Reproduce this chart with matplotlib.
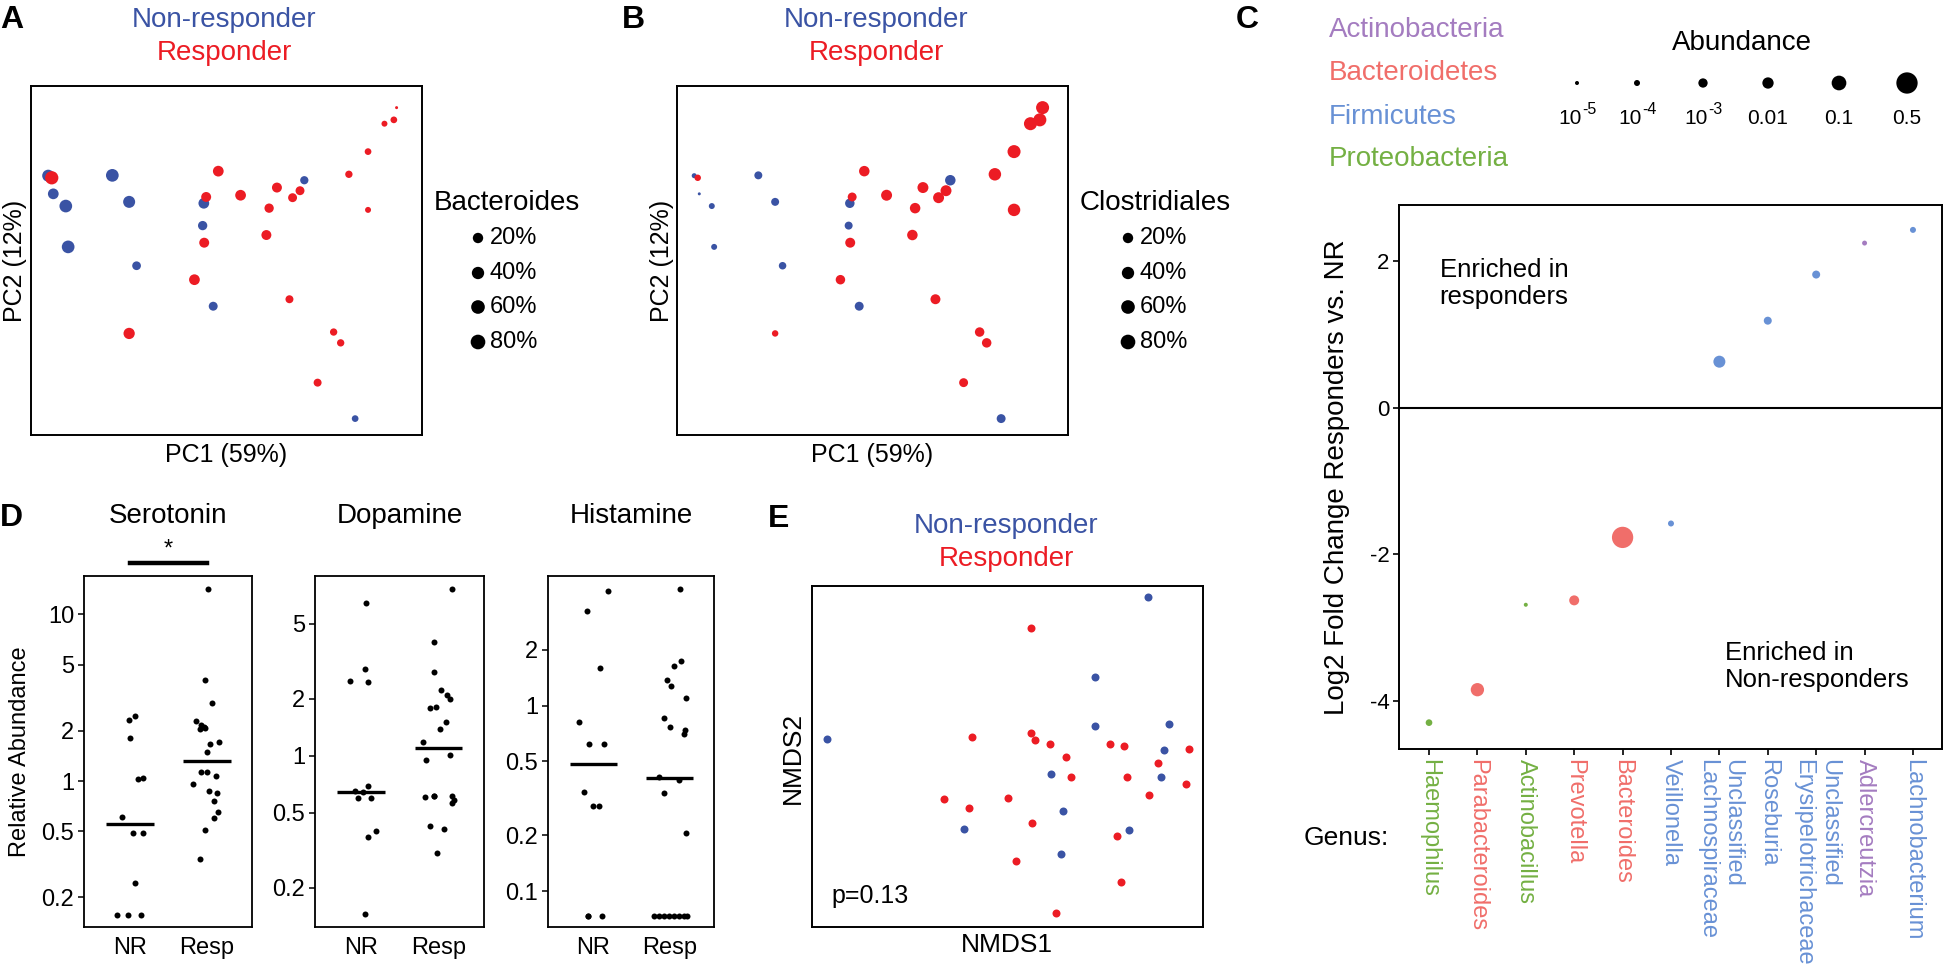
import numpy as np
import matplotlib.pyplot as plt
from matplotlib.ticker import NullLocator

plt.rcParams['font.family'] = ['Liberation Sans', 'DejaVu Sans']
plt.rcParams['axes.unicode_minus'] = False

# ---------------- data ----------------
# A / B: PCoA coordinates (fraction of plotted range) and per-sample abundances
pc1_nr = [0.044, 0.057, 0.089, 0.095, 0.208, 0.251, 0.270, 0.442, 0.439, 0.466, 0.699, 0.829]
pc2_nr = [0.743, 0.691, 0.656, 0.539, 0.744, 0.668, 0.485, 0.664, 0.600, 0.369, 0.730, 0.047]
pc1_r = [0.053, 0.479, 0.448, 0.536, 0.629, 0.609, 0.669, 0.688, 0.443, 0.602, 0.418,
         0.251, 0.661, 0.774, 0.792, 0.733, 0.813, 0.862, 0.862, 0.904, 0.928, 0.935]
pc2_r = [0.737, 0.756, 0.682, 0.687, 0.709, 0.650, 0.680, 0.700, 0.551, 0.573, 0.445,
         0.291, 0.389, 0.295, 0.264, 0.150, 0.747, 0.812, 0.645, 0.892, 0.903, 0.938]
bacteroides_nr = [0.36, 0.23, 0.45, 0.45, 0.45, 0.36, 0.10, 0.23, 0.13, 0.11, 0.08, 0.035]
bacteroides_r = [0.54, 0.23, 0.17, 0.23, 0.17, 0.13, 0.11, 0.11, 0.17, 0.17, 0.23,
                 0.28, 0.07, 0.05, 0.05, 0.07, 0.05, 0.035, 0.022, 0.022, 0.035, 0.0014]
clostridiales_nr = [0.011, 0.0014, 0.022, 0.022, 0.07, 0.07, 0.055, 0.14, 0.07, 0.11, 0.21, 0.11]
clostridiales_r = [0.03, 0.21, 0.11, 0.25, 0.25, 0.21, 0.25, 0.25, 0.17, 0.21, 0.14,
                   0.03, 0.17, 0.14, 0.14, 0.11, 0.42, 0.5, 0.42, 0.5, 0.5, 0.5]
pct_levels = [0.2, 0.4, 0.6, 0.8]
pct_labels = ['20%', '40%', '60%', '80%']

# C: log2 fold change per genus
genera = ['Haemophilus', 'Parabacteroides', 'Actinobacillus', 'Prevotella', 'Bacteroides',
          'Veillonella', 'Unclassified\nLachnospiraceae', 'Roseburia',
          'Unclassified\nErysipelotrichaceae', 'Adlercreutzia', 'Lachnobacterium']
genus_phylum = ['Proteobacteria', 'Bacteroidetes', 'Proteobacteria', 'Bacteroidetes',
                'Bacteroidetes', 'Firmicutes', 'Firmicutes', 'Firmicutes', 'Firmicutes',
                'Actinobacteria', 'Firmicutes']
log2fc = [-4.3, -3.85, -2.69, -2.63, -1.77, -1.58, 0.63, 1.19, 1.82, 2.25, 2.43]
mean_abund = [1.6e-4, 0.039, 1e-5, 2.2e-3, 0.5, 1e-4, 0.016, 4e-4, 4e-4, 3e-5, 1e-4]
phyla = ['Actinobacteria', 'Bacteroidetes', 'Firmicutes', 'Proteobacteria']
abund_levels = [1e-5, 1e-4, 1e-3, 0.01, 0.1, 0.5]
abund_labels = [('10', '-5'), ('10', '-4'), ('10', '-3'), ('0.01', ''), ('0.1', ''), ('0.5', '')]

# D: relative abundance of neurotransmitters
ser_nr = [2.32, 2.45, 1.80, 1.03, 1.04, 0.61, 0.49, 0.49, 0.243, 0.157, 0.157, 0.157]
ser_r = [14.2, 4.03, 2.93, 2.29, 2.17, 2.10, 2.05, 2.07, 1.71, 1.67, 1.50, 1.14, 1.14,
         0.96, 1.07, 0.875, 0.85, 0.76, 0.655, 0.60, 0.51, 0.34]
dop_nr = [6.47, 2.89, 2.50, 2.45, 0.69, 0.647, 0.64, 0.60, 0.60, 0.40, 0.371, 0.146]
dop_r = [7.65, 4.0, 2.76, 2.23, 2.10, 2.0, 1.80, 1.82, 1.51, 1.38, 1.19, 0.953, 1.01,
         0.604, 0.61, 0.614, 0.56, 0.585, 0.423, 0.41, 0.306, 0.61]
his_nr = [4.17, 3.22, 1.60, 0.82, 0.62, 0.62, 0.343, 0.288, 0.288, 0.0733, 0.0733, 0.0733]
his_r = [4.26, 1.73, 1.64, 1.37, 1.28, 1.10, 0.861, 0.77, 0.74, 0.70, 0.413, 0.397, 0.339,
         0.206, 0.0733, 0.0733, 0.0733, 0.0733, 0.0733, 0.0733, 0.0733, 0.0733]
groups = ['NR', 'Resp']

# E: NMDS coordinates (fraction of plotted range)
nmds1_nr = [0.859, 0.723, 0.725, 0.912, 0.038, 0.901, 0.612, 0.892, 0.641, 0.388, 0.811, 0.638]
nmds2_nr = [0.968, 0.732, 0.589, 0.594, 0.550, 0.520, 0.449, 0.441, 0.341, 0.287, 0.283, 0.213]
nmds1_r = [0.559, 0.409, 0.559, 0.570, 0.609, 0.763, 0.798, 0.964, 0.650, 0.885, 0.662,
           0.805, 0.957, 0.863, 0.337, 0.502, 0.402, 0.562, 0.779, 0.523, 0.791, 0.623]
nmds2_r = [0.877, 0.558, 0.569, 0.549, 0.538, 0.538, 0.530, 0.522, 0.499, 0.481, 0.439,
           0.439, 0.420, 0.387, 0.375, 0.379, 0.349, 0.304, 0.266, 0.194, 0.132, 0.042]

# ---------------- style / layout ----------------
W, H = 1946, 975
BLUE = '#3A53A4'
RED = '#EC1C24'
phylum_colors = {'Actinobacteria': '#A47CC0', 'Bacteroidetes': '#F06E6A',
                 'Firmicutes': '#6891D5', 'Proteobacteria': '#74B043'}

# strip chart jitter (x offsets)
ser_nr_jit = [-0.013, 0.069, 0, 0.1, 0.163, -0.107, 0.038, 0.163, 0.069, -0.169, -0.025, 0.144]
ser_r_jit = [0.022, -0.022, 0.066, -0.135, -0.072, -0.041, -0.085, -0.022, 0.16, 0.041, 0.003,
             -0.072, 0.003, -0.185, 0.116, 0.034, 0.129, 0.097, 0.147, 0.097, -0.022, -0.085]
dop_nr_jit = [0.062, 0.043, -0.142, 0.093, 0.087, -0.08, 0.019, -0.043, 0.124, 0.186, 0.093, 0.043]
dop_r_jit = [0.176, -0.053, -0.053, 0.034, 0.115, 0.146, -0.115, -0.028, 0.096, 0.022, -0.195,
             -0.164, 0.146, -0.176, -0.053, 0.176, 0.176, 0.195, -0.115, 0.071, -0.022, -0.053]
his_nr_jit = [0.197, -0.087, 0.087, -0.191, -0.061, 0.133, -0.126, -0.01, 0.068, -0.074, 0.107, -0.074]
his_r_jit = [0.142, 0.155, 0.058, -0.026, 0.026, 0.22, -0.071, 0.013, 0.207, 0.188, -0.136,
             0.123, -0.071, 0.22, -0.2, -0.136, -0.071, -0.006, 0.058, 0.123, 0.188, 0.233]


def box(x0, y0, x1, y1):
    # pixel box (top-left origin) -> figure fraction rect
    return [x0 / W, 1 - y1 / H, (x1 - x0) / W, (y1 - y0) / H]


def s_px(d):
    # dot diameter in px -> scatter size (pt^2), dpi=100
    return (np.asarray(d) * 0.72) ** 2


def size_pc(p):
    return s_px(15.5 * np.asarray(p) ** 0.25)


def size_c(p):
    d = np.interp(np.log10(p), np.log10(abund_levels), [4, 6, 9.3, 11.3, 14.7, 21.3])
    return s_px(d)


def frame(ax, lw=1.4):
    for sp in ax.spines.values():
        sp.set_linewidth(lw)


fig = plt.figure(figsize=(W / 100, H / 100), dpi=100)

# ---------------- A and B ----------------
for left, ab_nr, ab_r in [(31, bacteroides_nr, bacteroides_r), (677, clostridiales_nr, clostridiales_r)]:
    ax = fig.add_axes(box(left, 86, left + 391, 435))
    ax.scatter(pc1_nr, pc2_nr, s=size_pc(ab_nr), color=BLUE, linewidths=0, zorder=2)
    ax.scatter(pc1_r, pc2_r, s=size_pc(ab_r), color=RED, linewidths=0, zorder=3)
    ax.set_xlim(0, 1)
    ax.set_ylim(0, 1)
    ax.set_xticks([])
    ax.set_yticks([])
    frame(ax)

# ---------------- C ----------------
axc = fig.add_axes(box(1399, 205, 1942, 749))
xc = np.arange(len(genera))
gcol = [phylum_colors[p] for p in genus_phylum]
axc.scatter(xc, log2fc, s=size_c(mean_abund), c=gcol, linewidths=0, zorder=3)
axc.axhline(0, color='k', lw=1.5)
axc.set_xlim(-0.62, 10.6)
axc.set_ylim(-4.66, 2.77)
axc.set_yticks([-4, -2, 0, 2])
axc.tick_params(axis='y', labelsize=16, length=4, width=1.2, pad=3)
axc.set_xticks(xc)
axc.set_xticklabels(genera, rotation=270, fontsize=17, ha='center', va='top',
                    multialignment='left')
axc.tick_params(axis='x', length=4, width=1.2, pad=3)
for lab, col in zip(axc.get_xticklabels(), gcol):
    lab.set_color(col)
frame(axc)
axc.text(0.075, 0.855, 'Enriched in\nresponders', transform=axc.transAxes,
         fontsize=18.5, va='center', ha='left', linespacing=1.15)
axc.text(0.60, 0.151, 'Enriched in\nNon-responders', transform=axc.transAxes,
         fontsize=18.5, va='center', ha='left', linespacing=1.15)

# ---------------- D ----------------
d_sets = [('Serotonin', (84, 252), ser_nr, ser_r, ser_nr_jit, ser_r_jit, (0.133, 17),
           [0.2, 0.5, 1, 2, 5, 10]),
          ('Dopamine', (315, 484), dop_nr, dop_r, dop_nr_jit, dop_r_jit, (0.124, 8.95),
           [0.2, 0.5, 1, 2, 5]),
          ('Histamine', (548, 714), his_nr, his_r, his_nr_jit, his_r_jit, (0.064, 5.0),
           [0.1, 0.2, 0.5, 1, 2])]
d_axes = []
for name, (x0, x1), v_nr, v_r, j_nr, j_r, ylim, ticks in d_sets:
    ax = fig.add_axes(box(x0, 576, x1, 927))
    for pos, vals, jit in [(1, v_nr, j_nr), (2, v_r, j_r)]:
        ax.scatter(pos + np.asarray(jit), vals, s=s_px(6), color='k', linewidths=0, zorder=3)
        ax.hlines(np.median(vals), pos - 0.31, pos + 0.31, color='k', lw=2.4, zorder=2)
    ax.set_yscale('log')
    ax.set_ylim(*ylim)
    ax.set_xlim(0.4, 2.59)
    ax.set_yticks(ticks)
    ax.set_yticklabels([f'{t:g}' for t in ticks])
    ax.yaxis.set_minor_locator(NullLocator())
    ax.set_xticks([1, 2])
    ax.set_xticklabels(groups)
    ax.tick_params(axis='x', length=0, labelsize=17, pad=7)
    ax.tick_params(axis='y', length=4, width=1.1, labelsize=17, pad=3)
    frame(ax, 1.3)
    ax.set_title(name, fontsize=20, pad=38)
    d_axes.append(ax)

ax_s = d_axes[0]
ax_s.plot([1, 2], [1.037, 1.037], color='k', lw=3.2, clip_on=False,
          transform=ax_s.get_xaxis_transform())
ax_s.text(1.5, 1.045, '*', transform=ax_s.get_xaxis_transform(), ha='center', va='bottom',
          fontsize=17)

# ---------------- E ----------------
axe = fig.add_axes(box(812, 586, 1203, 927))
axe.scatter(nmds1_nr, nmds2_nr, s=s_px(8), color=BLUE, linewidths=0, zorder=2)
axe.scatter(nmds1_r, nmds2_r, s=s_px(8), color=RED, linewidths=0, zorder=3)
axe.set_xlim(0, 1)
axe.set_ylim(0, 1)
axe.set_xticks([])
axe.set_yticks([])
frame(axe)
axe.text(0.051, 0.091, 'p=0.13', transform=axe.transAxes, fontsize=18, va='center', ha='left')

# ---------------- overlay: labels, legends ----------------
ov = fig.add_axes([0, 0, 1, 1])
ov.set_xlim(0, W)
ov.set_ylim(H, 0)
ov.axis('off')

for txt, x, y in [('A', 0, 20), ('B', 622, 20), ('C', 1236, 20), ('D', 0, 518), ('E', 768, 519)]:
    ov.text(x, y, txt, fontsize=23, fontweight='bold', ha='left', va='center')

for cx, cy in [(224, 20), (876, 20), (1006, 526)]:
    ov.text(cx, cy, 'Non-responder', color=BLUE, fontsize=20, ha='center', va='center')
    ov.text(cx, cy + 33, 'Responder', color=RED, fontsize=20, ha='center', va='center')

for cx, ylab_x in [(226, 15), (872, 662)]:
    ov.text(cx, 455, 'PC1 (59%)', fontsize=18, ha='center', va='center')
    ov.text(ylab_x, 261, 'PC2 (12%)', fontsize=18, ha='center', va='center', rotation=90)

# size legends for A and B
for title, tx, dx in [('Bacteroides', 434, 478), ('Clostridiales', 1080, 1128)]:
    ov.text(tx, 203, title, fontsize=20, ha='left', va='center')
    rows = [238, 273, 307, 342]
    ov.scatter([dx] * 4, rows, s=size_pc(pct_levels), color='k', linewidths=0)
    for ry, lab in zip(rows, pct_labels):
        ov.text(dx + 12, ry, lab, fontsize=17, ha='left', va='center')

# phylum colour legend
for ph, y in zip(phyla, [30, 73, 117, 159]):
    ov.text(1329, y, ph, color=phylum_colors[ph], fontsize=20, ha='left', va='center')

# abundance size legend
ov.text(1742, 43, 'Abundance', fontsize=20, ha='center', va='center')
leg_x = [1577, 1637, 1703, 1768, 1839, 1907]
ov.scatter(leg_x, [83] * 6, s=size_c(abund_levels), color='k', linewidths=0)
for lx, (base, sup) in zip(leg_x, abund_labels):
    if sup:
        ov.text(lx + 5, 119, base, fontsize=15, ha='right', va='center')
        ov.text(lx + 5, 109, sup, fontsize=11.5, ha='left', va='center')
    else:
        ov.text(lx, 119, base, fontsize=15, ha='center', va='center')

ov.text(1337, 477, 'Log2 Fold Change Responders vs. NR', fontsize=20, rotation=90,
        ha='center', va='center')
ov.text(1346, 838, 'Genus:', fontsize=19, ha='center', va='center')

ov.text(20, 752, 'Relative Abundance', fontsize=17, rotation=90, ha='center', va='center')
ov.text(1007, 945, 'NMDS1', fontsize=19, ha='center', va='center')
ov.text(793, 758, 'NMDS2', fontsize=19, rotation=90, ha='center', va='center')

fig.savefig('out.png', dpi=100)
